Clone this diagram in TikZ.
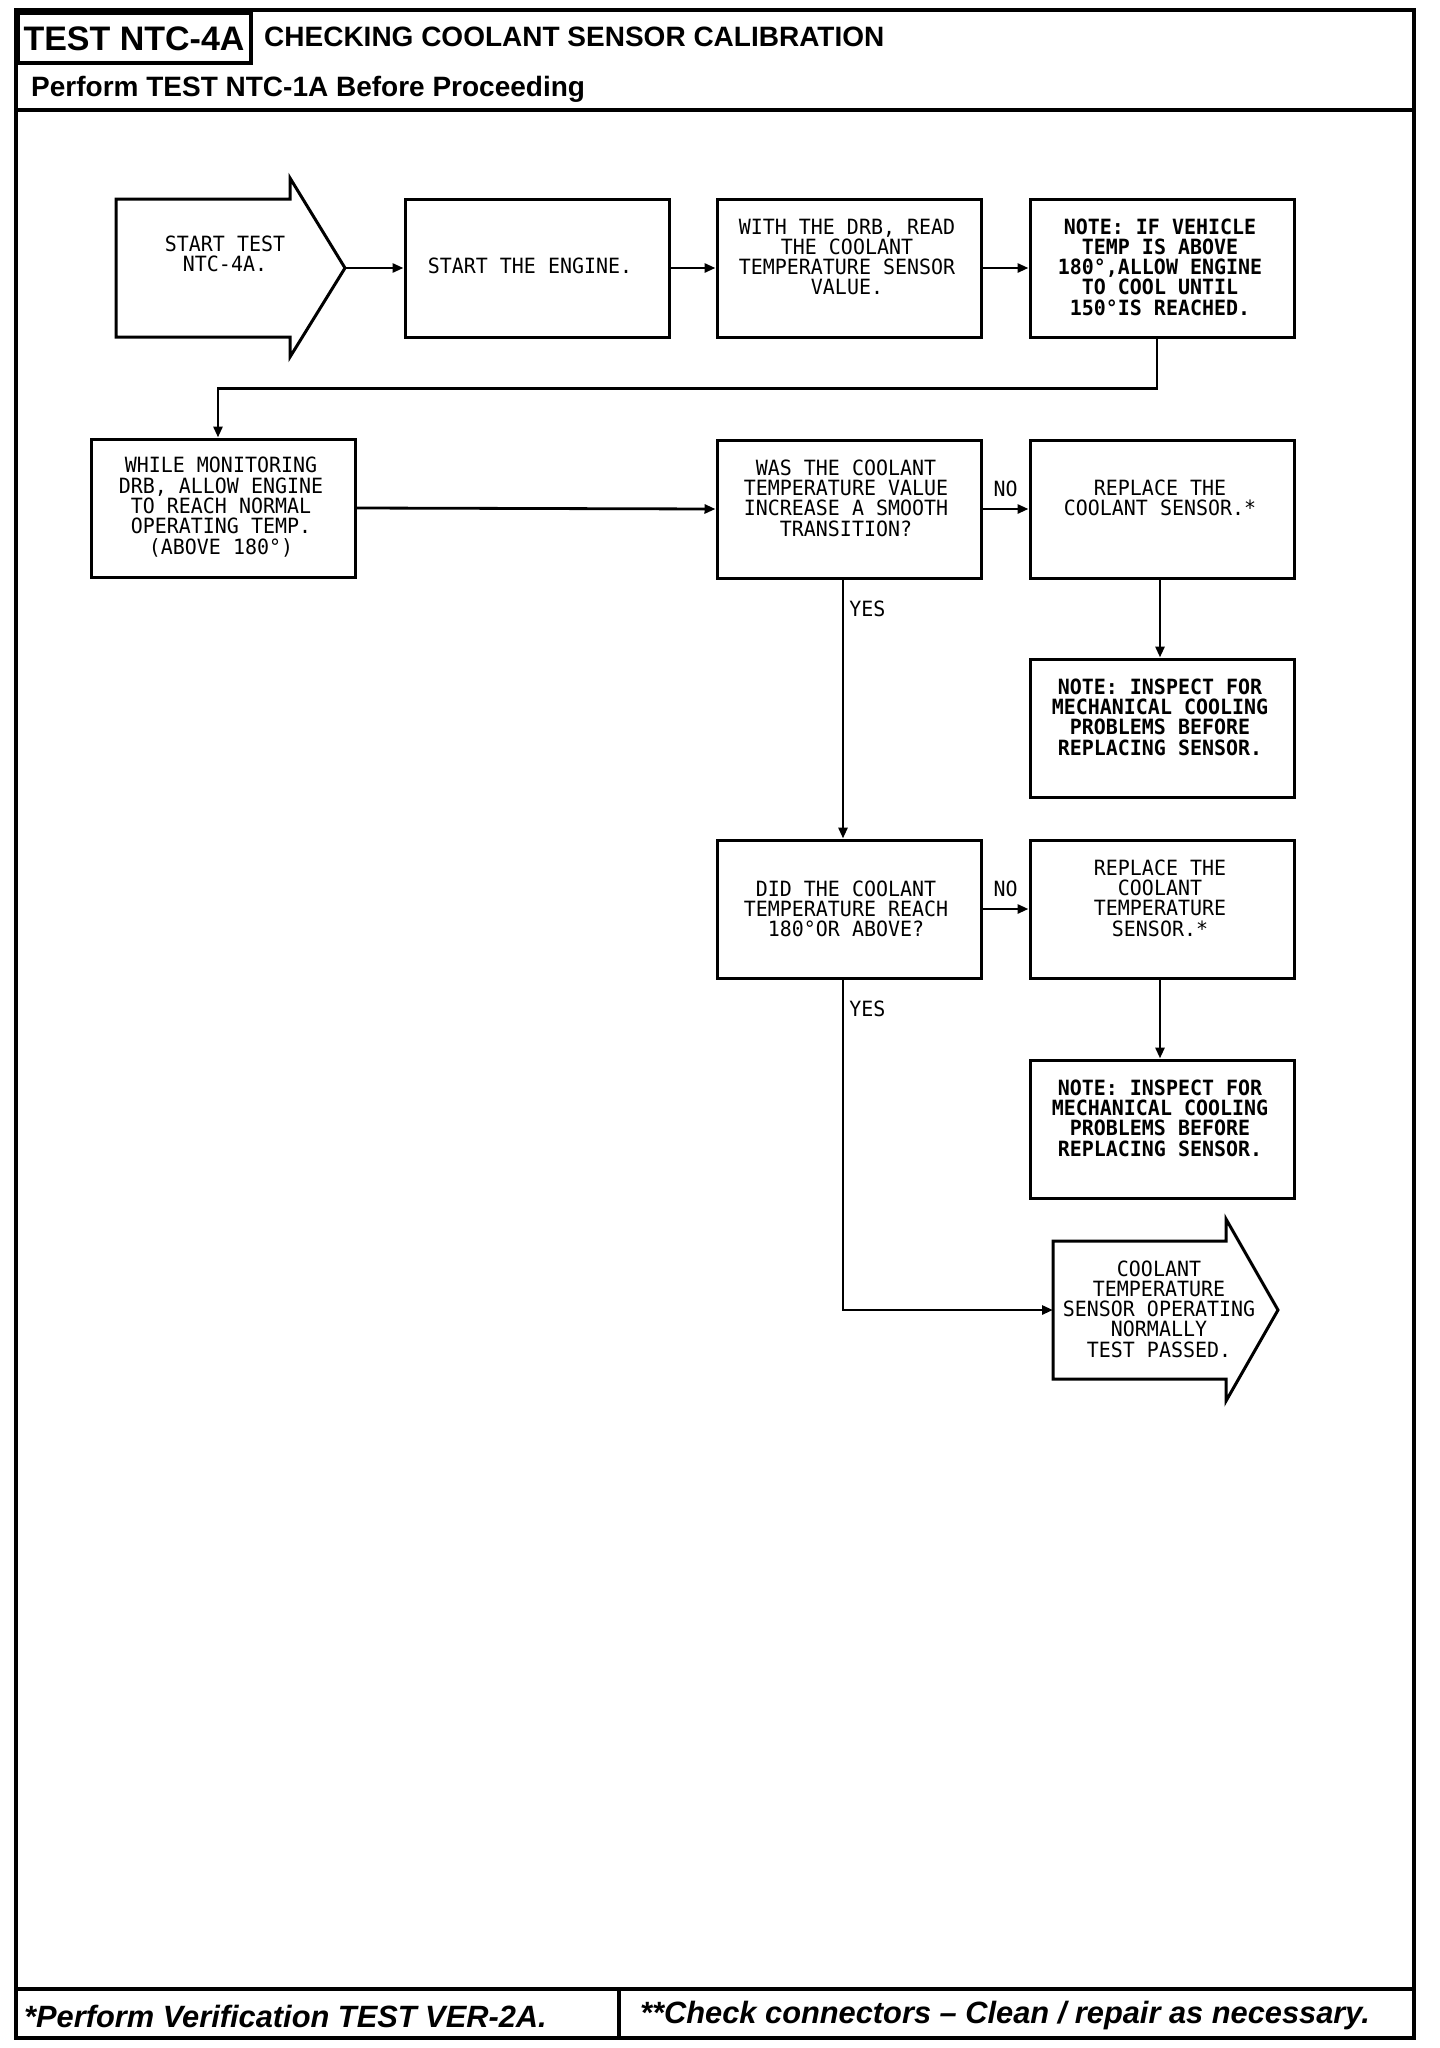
\documentclass[tikz,border=0pt]{standalone}
\usepackage{fontspec}
\setmainfont{Liberation Sans}
\newfontfamily\plotfont[FakeStretch=0.95]{DejaVu Sans Mono}
\usetikzlibrary{arrows.meta}
\begin{document}
\begin{tikzpicture}[x=1pt,y=-1pt,
  frame/.style={line width=3.5pt},
  box/.style={draw,line width=3pt,minimum width=264pt,minimum height=138pt,inner sep=0pt},
  shp/.style={line width=3pt,line join=miter},
  pt/.style={font=\plotfont\fontsize{21}{20.3}\selectfont,align=center,inner sep=0pt},
  pb/.style={font=\plotfont\bfseries\fontsize{21}{20.3}\selectfont,align=center,inner sep=0pt},
  conn/.style={line width=2.8pt,-{Triangle[length=11pt,width=9pt]}},
  lbl/.style={font=\plotfont\fontsize{21}{20.3}\selectfont,inner sep=0pt},
  hd/.style={font=\bfseries\fontsize{#1}{#1}\selectfont,inner sep=0pt},
  ft/.style={font=\bfseries\itshape\fontsize{30.8}{30.8}\selectfont,inner sep=0pt,anchor=west}
]
\fill[white] (0,0) rectangle (1440,2048);
\useasboundingbox (0,0) rectangle (1440,2048);

% frame and header/footer
\draw[frame] (16,10) rectangle (1414,2038);
\draw[frame] (16,110) -- (1414,110);
\draw[frame] (16,1989) -- (1414,1989);
\draw[frame] (619,1989) -- (619,2038);
\draw[frame] (18,13) rectangle (251,63);
\node[hd=34] (testid) at (134,39) {TEST NTC-4A};
\node[hd=28,anchor=west] (title) at (264,37) {CHECKING COOLANT SENSOR CALIBRATION};
\node[hd=28,anchor=west] (pre) at (31,89) {Perform TEST NTC-1A Before Proceeding};
\node[ft] (f1) at (24,2016) {*Perform Verification TEST VER-2A.};
\node[ft] (f2) at (640,2016) {**Check connectors – Clean / repair as necessary.};

% start arrow
\draw[shp] (116,199) -- (290,199) -- (290,178) -- (345,268) -- (290,357) -- (290,337) -- (116,337) -- cycle;
\coordinate (starttip) at (345,268);
\node[pt] (start) at (225,254) {START TEST\\NTC-4A.};

% row 1
\node[box] (b2) at (537,268) {};
\node[pt] (t2) at (530,266) {START THE ENGINE.};
\node[box] (b3) at (849,268) {};
\node[pt] (t3) at (847,257) {WITH THE DRB, READ\\THE COOLANT\\TEMPERATURE SENSOR\\VALUE.};
\node[box] (b4) at (1162,268) {};
\node[pb] (t4) at (1160,267) {NOTE: IF VEHICLE\\TEMP IS ABOVE\\180°,ALLOW ENGINE\\TO COOL UNTIL\\150°IS REACHED.};

% row 2
\node[box] (b5) at (223,508) {};
\node[pt] (t5) at (221,507) {WHILE MONITORING\\DRB, ALLOW ENGINE\\TO REACH NORMAL\\OPERATING TEMP.\\(ABOVE 180°)};
\node[box] (b6) at (849,509) {};
\node[pt] (t6) at (846,498) {WAS THE COOLANT\\TEMPERATURE VALUE\\INCREASE A SMOOTH\\TRANSITION?};
\node[box] (b7) at (1162,509) {};
\node[pt] (t7) at (1160,498) {REPLACE THE\\COOLANT SENSOR.*};
\node[box] (b8) at (1162,728) {};
\node[pb] (t8) at (1160,717) {NOTE: INSPECT FOR\\MECHANICAL COOLING\\PROBLEMS BEFORE\\REPLACING SENSOR.};

% row 3
\node[box] (b9) at (849,909) {};
\node[pt] (t9) at (846,909) {DID THE COOLANT\\TEMPERATURE REACH\\180°OR ABOVE?};
\node[box] (b10) at (1162,909) {};
\node[pt] (t10) at (1160,898) {REPLACE THE\\COOLANT\\TEMPERATURE\\SENSOR.*};
\node[box] (b11) at (1162,1129) {};
\node[pb] (t11) at (1160,1118) {NOTE: INSPECT FOR\\MECHANICAL COOLING\\PROBLEMS BEFORE\\REPLACING SENSOR.};

% end arrow
\draw[shp] (1053,1241) -- (1226,1241) -- (1226,1219) -- (1278,1310) -- (1226,1401) -- (1226,1379) -- (1053,1379) -- cycle;
\coordinate (endin) at (1053,1310);
\node[pt] (endt) at (1159,1309) {COOLANT\\TEMPERATURE\\SENSOR OPERATING\\NORMALLY\\TEST PASSED.};

% connectors
\draw[conn] (starttip) -- (b2.west);
\draw[conn] (b2.east) -- (b3.west);
\draw[conn] (b3.east) -- (b4.west);
\draw[conn] ([xshift=-5pt]b4.south) -- ++(0,50) -| ([xshift=-5pt]b5.north);
\draw[conn] (b5.east) -- (b6.west);
\draw[conn] (b6.east) -- node[lbl,above=11pt] (no1) {NO} (b7.west);
\draw[conn] ([xshift=-2pt]b7.south) -- ([xshift=-2pt]b8.north);
\draw[conn] ([xshift=-6pt]b6.south) -- node[lbl,right=5pt,pos=0.115] (yes1) {YES} ([xshift=-6pt]b9.north);
\draw[conn] (b9.east) -- node[lbl,above=11pt] (no2) {NO} (b10.west);
\draw[conn] ([xshift=-2pt]b10.south) -- ([xshift=-2pt]b11.north);
\draw[conn] ([xshift=-6pt]b9.south) |- node[lbl,right=5pt,pos=0.045] (yes2) {YES} (endin);
\end{tikzpicture}
\end{document}
